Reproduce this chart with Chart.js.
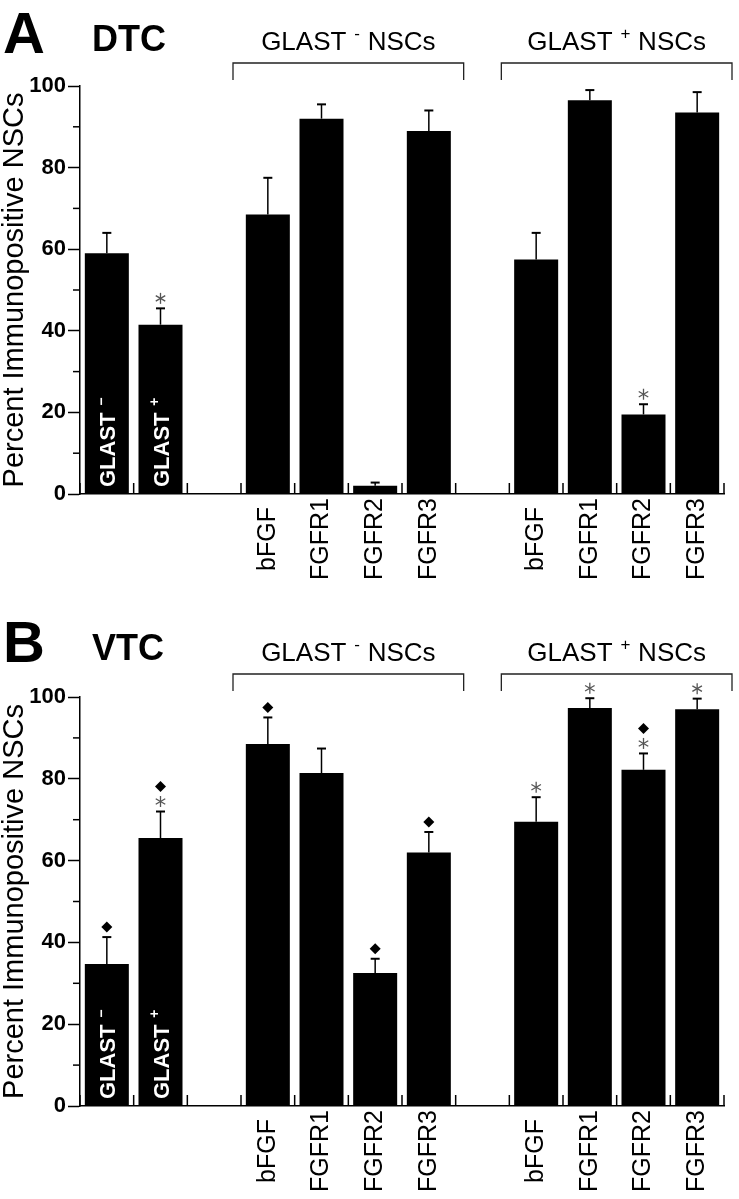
<!DOCTYPE html>
<html>
<head>
<meta charset="utf-8">
<title>GLAST NSCs - FGF / FGFR immunoreactivity</title>
<script src="https://cdn.jsdelivr.net/npm/chart.js@4"></script>
<style>
  body { margin: 0; background: #fff; }
  canvas { display: block; }
</style>
</head>
<body>
<canvas id="chartA" width="739" height="611"></canvas>
<canvas id="chartB" width="739" height="588"></canvas>
<script>
// categories: two single bars, a gap, then GLAST- and GLAST+ groups
const categories = ['GLAST -', 'GLAST +', '', 'bFGF', 'FGFR1', 'FGFR2', 'FGFR3', '', 'bFGF', 'FGFR1', 'FGFR2', 'FGFR3'];
const yTicks = [0, 20, 40, 60, 80, 100];
const yMinorTicks = [10, 30, 50, 70, 90];

// A: DTC
const dtcMeans = [59, 41.5, null, 68.5, 92, 2, 89, null, 57.5, 96.5, 19.5, 93.5];
const dtcSem = [5, 4, null, 9, 3.5, 0.8, 5, null, 6.5, 2.5, 2.5, 5];
const dtcMarks = ['', '*', '', '', '', '', '', '', '', '', '*', ''];

// B: VTC
const vtcMeans = [34.7, 65.5, null, 88.5, 81.4, 32.5, 62, null, 69.5, 97.3, 82.2, 97];
const vtcSem = [6.6, 6.5, null, 6.5, 6, 3.5, 5, null, 6, 2.4, 4, 2.6];
const vtcMarks = ['\u25C6', '*\u25C6', '', '\u25C6', '', '\u25C6', '\u25C6', '', '*', '*', '*\u25C6', '*'];

const groupNames = [['GLAST', '-', 'NSCs'], ['GLAST', '+', 'NSCs']];
const groupRanges = [[3, 6], [8, 11]];

const FONT = '"Liberation Sans", Arial, Helvetica, sans-serif';

function drawAsterisk(ctx, cx, cy) {
  ctx.save();
  ctx.strokeStyle = '#555';
  ctx.lineWidth = 1.3;
  for (let k = 0; k < 3; k++) {
    const a = Math.PI / 2 + k * Math.PI / 3;
    ctx.beginPath();
    ctx.moveTo(cx - 5.5 * Math.cos(a), cy - 5.5 * Math.sin(a));
    ctx.lineTo(cx + 5.5 * Math.cos(a), cy + 5.5 * Math.sin(a));
    ctx.stroke();
  }
  ctx.restore();
}

function drawDiamond(ctx, cx, cy) {
  ctx.beginPath();
  ctx.moveTo(cx, cy - 5.5);
  ctx.lineTo(cx + 5.5, cy);
  ctx.lineTo(cx, cy + 5.5);
  ctx.lineTo(cx - 5.5, cy);
  ctx.closePath();
  ctx.fillStyle = '#000';
  ctx.fill();
}

// text with a raised sign, e.g. GLAST^- NSCs
function supText(ctx, parts, x, y, size, bold, align) {
  const w = bold ? 'bold ' : '';
  const big = w + size + 'px ' + FONT;
  const small = w + Math.round(size * 0.65) + 'px ' + FONT;
  ctx.font = big;
  const w1 = ctx.measureText(parts[0]).width;
  const w3 = parts[2] ? ctx.measureText(parts[2]).width : 0;
  ctx.font = small;
  const w2 = ctx.measureText(parts[1]).width;
  const gap = size * 0.3;
  const total = w1 + gap + w2 + (parts[2] ? gap : 0) + w3;
  let sx = align === 'center' ? x - total / 2 : x;
  ctx.textAlign = 'left';
  ctx.font = big;
  ctx.fillText(parts[0], sx, y);
  sx += w1 + gap;
  ctx.font = small;
  ctx.fillText(parts[1], sx, y - size * 0.42);
  sx += w2 + gap;
  if (parts[2]) {
    ctx.font = big;
    ctx.fillText(parts[2], sx, y);
  }
}

const decor = {
  id: 'decor',
  afterDraw(chart, args, o) {
    const ctx = chart.ctx;
    const xs = chart.scales.x, ys = chart.scales.y;
    const area = chart.chartArea;
    const bars = chart.getDatasetMeta(0).data;
    const step = xs.getPixelForValue(1) - xs.getPixelForValue(0);
    ctx.save();
    ctx.strokeStyle = '#000';
    ctx.fillStyle = '#000';

    // minor y ticks
    ctx.lineWidth = 1.5;
    yMinorTicks.forEach(v => {
      const py = ys.getPixelForValue(v);
      ctx.beginPath();
      ctx.moveTo(area.left - 7, py);
      ctx.lineTo(area.left, py);
      ctx.stroke();
    });

    // upward ticks between categories
    for (let i = 0; i <= categories.length; i++) {
      const px = xs.getPixelForValue(Math.min(i, categories.length - 1)) + (i < categories.length ? -step / 2 : step / 2);
      ctx.beginPath();
      ctx.moveTo(px, area.bottom);
      ctx.lineTo(px, area.bottom - 11);
      ctx.stroke();
    }

    // error bars + significance marks
    o.means.forEach((m, i) => {
      if (m === null) return;
      const bar = bars[i];
      const top = ys.getPixelForValue(m + o.sem[i]);
      ctx.lineWidth = 1.5;
      ctx.beginPath();
      ctx.moveTo(bar.x, bar.y);
      ctx.lineTo(bar.x, top);
      ctx.stroke();
      ctx.lineWidth = 2;
      ctx.beginPath();
      ctx.moveTo(bar.x - 4.5, top);
      ctx.lineTo(bar.x + 4.5, top);
      ctx.stroke();
      [...o.marks[i]].forEach((c, k) => {
        const cy = top - 10 - 15 * k;
        if (c === '*') drawAsterisk(ctx, bar.x, cy);
        else drawDiamond(ctx, bar.x, cy);
      });
    });

    // category labels under the axis
    categories.forEach((lab, i) => {
      if (!lab || i < 2) return;
      ctx.save();
      ctx.translate(xs.getPixelForValue(i), area.bottom + 45);
      ctx.rotate(-Math.PI / 2);
      ctx.font = '25px ' + FONT;
      ctx.textAlign = 'center';
      ctx.textBaseline = 'middle';
      ctx.fillStyle = '#000';
      ctx.fillText(lab, 0, 0);
      ctx.restore();
    });

    // white labels inside the first two bars
    [0, 1].forEach(i => {
      const parts = categories[i].split(' ');
      ctx.save();
      ctx.translate(bars[i].x + 8, area.bottom - 7);
      ctx.rotate(-Math.PI / 2);
      ctx.fillStyle = '#fff';
      ctx.textBaseline = 'alphabetic';
      supText(ctx, [parts[0], parts[1] === '-' ? '\u2212' : parts[1], ''], 0, 0, 22, true, 'left');
      ctx.restore();
    });

    // group brackets and headers
    ctx.lineWidth = 1.3;
    ctx.strokeStyle = '#222';
    groupRanges.forEach((r, g) => {
      const x0 = xs.getPixelForValue(r[0]) - step / 2 - 8;
      const x1 = xs.getPixelForValue(r[1]) + step / 2 + 8;
      ctx.beginPath();
      ctx.moveTo(x0, area.top - 6);
      ctx.lineTo(x0, area.top - 23);
      ctx.lineTo(x1, area.top - 23);
      ctx.lineTo(x1, area.top - 6);
      ctx.stroke();
      ctx.fillStyle = '#000';
      ctx.textBaseline = 'alphabetic';
      supText(ctx, groupNames[g], (x0 + x1) / 2, area.top - 36, 26, false, 'center');
    });

    // panel letter and region name
    ctx.fillStyle = '#000';
    ctx.textAlign = 'left';
    ctx.textBaseline = 'alphabetic';
    ctx.font = 'bold 58px ' + FONT;
    ctx.fillText(o.letter, 3, o.letterBase);
    ctx.font = 'bold 36px ' + FONT;
    ctx.fillText(o.region, 92, o.letterBase - 2);
    ctx.restore();
  }
};

function makePanel(id, means, sem, marks, letter, region, bottomPad, letterBase) {
  return new Chart(document.getElementById(id), {
    type: 'bar',
    data: {
      labels: categories,
      datasets: [{
        data: means,
        backgroundColor: '#000',
        borderWidth: 0,
        categoryPercentage: 1,
        barPercentage: 0.82
      }]
    },
    options: {
      responsive: false,
      animation: false,
      events: [],
      layout: { padding: { top: 86, right: 15, bottom: bottomPad, left: 0 } },
      plugins: {
        legend: { display: false },
        tooltip: { enabled: false },
        decor: { means, sem, marks, letter, region, letterBase }
      },
      scales: {
        x: {
          type: 'category',
          offset: true,
          grid: { display: false, drawTicks: false },
          border: { display: true, color: '#000', width: 1.5 },
          ticks: { display: false },
          afterFit: s => { s.height = 0; }
        },
        y: {
          min: 0,
          max: 100,
          afterFit: s => { s.width = 80; },
          afterBuildTicks: s => { s.ticks = yTicks.map(v => ({ value: v })); },
          grid: { drawOnChartArea: false, tickLength: 12, tickColor: '#000', tickWidth: 1.5 },
          border: { display: true, color: '#000', width: 1.5 },
          ticks: {
            color: '#000',
            padding: 2,
            font: { family: FONT, size: 22, weight: 'bold' }
          },
          title: {
            display: true,
            text: 'Percent Immunopositive NSCs',
            color: '#000',
            padding: 0,
            font: { family: FONT, size: 29, lineHeight: 1 }
          }
        }
      }
    },
    plugins: [decor]
  });
}

makePanel('chartA', dtcMeans, dtcSem, dtcMarks, 'A', 'DTC', 117, 53);
makePanel('chartB', vtcMeans, vtcSem, vtcMarks, 'B', 'VTC', 93, 51);
</script>
</body>
</html>
